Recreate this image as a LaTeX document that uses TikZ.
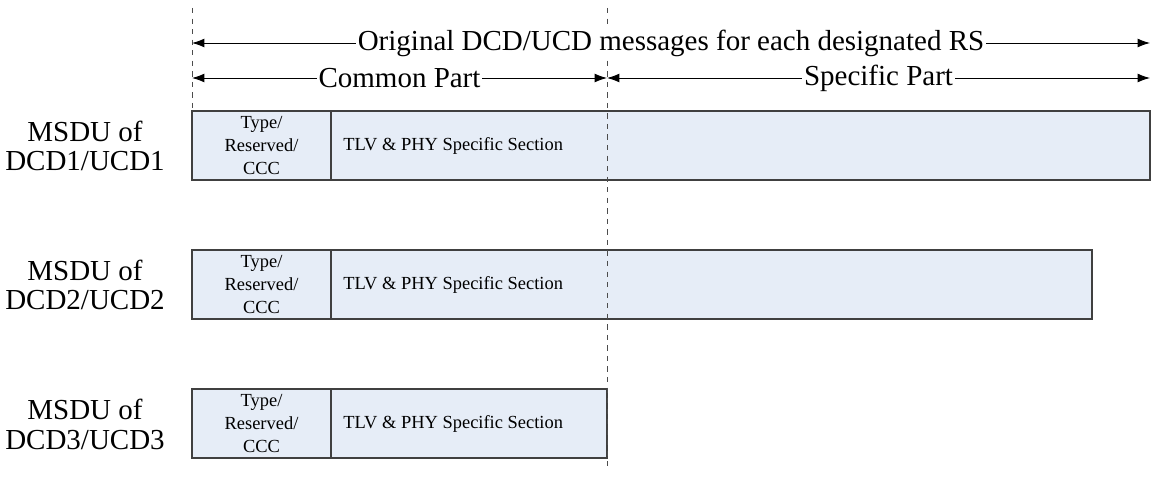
\documentclass[tikz,border=0pt]{standalone}
\usepackage{fontspec}
\setmainfont{Liberation Serif}
\usetikzlibrary{positioning}
\usetikzlibrary{arrows.meta}

\definecolor{cellblue}{RGB}{230,237,247}

\begin{document}
\begin{tikzpicture}[x=0.02cm, y=-0.02cm,
		guide/.style={dashed, gray!60!black, line width=0.4pt},
		span/.style={{Latex[length=7pt,width=5pt]}-{Latex[length=7pt,width=5pt]}, line width=0.5pt},
		partlabel/.style={fill=white, inner sep=1pt, font=\fontsize{16.5}{18}\selectfont},
		cell/.style={draw=black!75, fill=cellblue, line width=0.6pt},
		small/.style={font=\fontsize{10.5}{13}\selectfont, inner sep=0pt}]
		\useasboundingbox (0, 0) rectangle (1152, 489);
		% messages
		\draw[cell] (192, 111) rectangle (1150, 180);
		\draw[cell] (192, 250) rectangle (1092, 319);
		\draw[cell] (192, 389) rectangle (607, 458);
		\foreach \y/\n in {111/1, 250/2, 389/3} {
			\draw[cell] (331, \y) -- (331, \y+69);
			\node[small, align=center] (hdr\n) at (261.5, \y+34.5) {Type/\\Reserved/\\CCC};
			\node[small, anchor=west] (tlv\n) at (343, \y+34.5) {TLV \& PHY Specific Section};
			\node[font=\fontsize{16.5}{17}\selectfont, align=center] (msdu\n) at (85, \y+35) {MSDU of\\DCD\n/UCD\n};
		}
		% guides
		\coordinate (gl top) at (192, 8);
		\coordinate (gl bot) at (192, 111);
		\coordinate (gm top) at (607, 8);
		\coordinate (gm bot) at (607, 466);
		\coordinate (left1) at (192, 43);
		\coordinate (right1) at (1150, 43);
		\coordinate (left2) at (192, 78);
		\coordinate (mid2) at (607, 78);
		\coordinate (right2) at (1150, 78);
		\draw[guide] (gl top) -- (gl bot);
		\draw[guide] (gm top) -- (gm bot);
		% spans
		\draw[span] (left1) -- (right1)
			node[partlabel, pos=0.5] (orig) {Original DCD/UCD messages for each designated RS};
		\draw[span] (left2) -- (mid2)
			node[partlabel, pos=0.5] (common) {Common Part};
		\draw[span] (mid2) -- (right2)
			node[partlabel, pos=0.5] (specific) {Specific Part};
	\end{tikzpicture}
\end{document}
